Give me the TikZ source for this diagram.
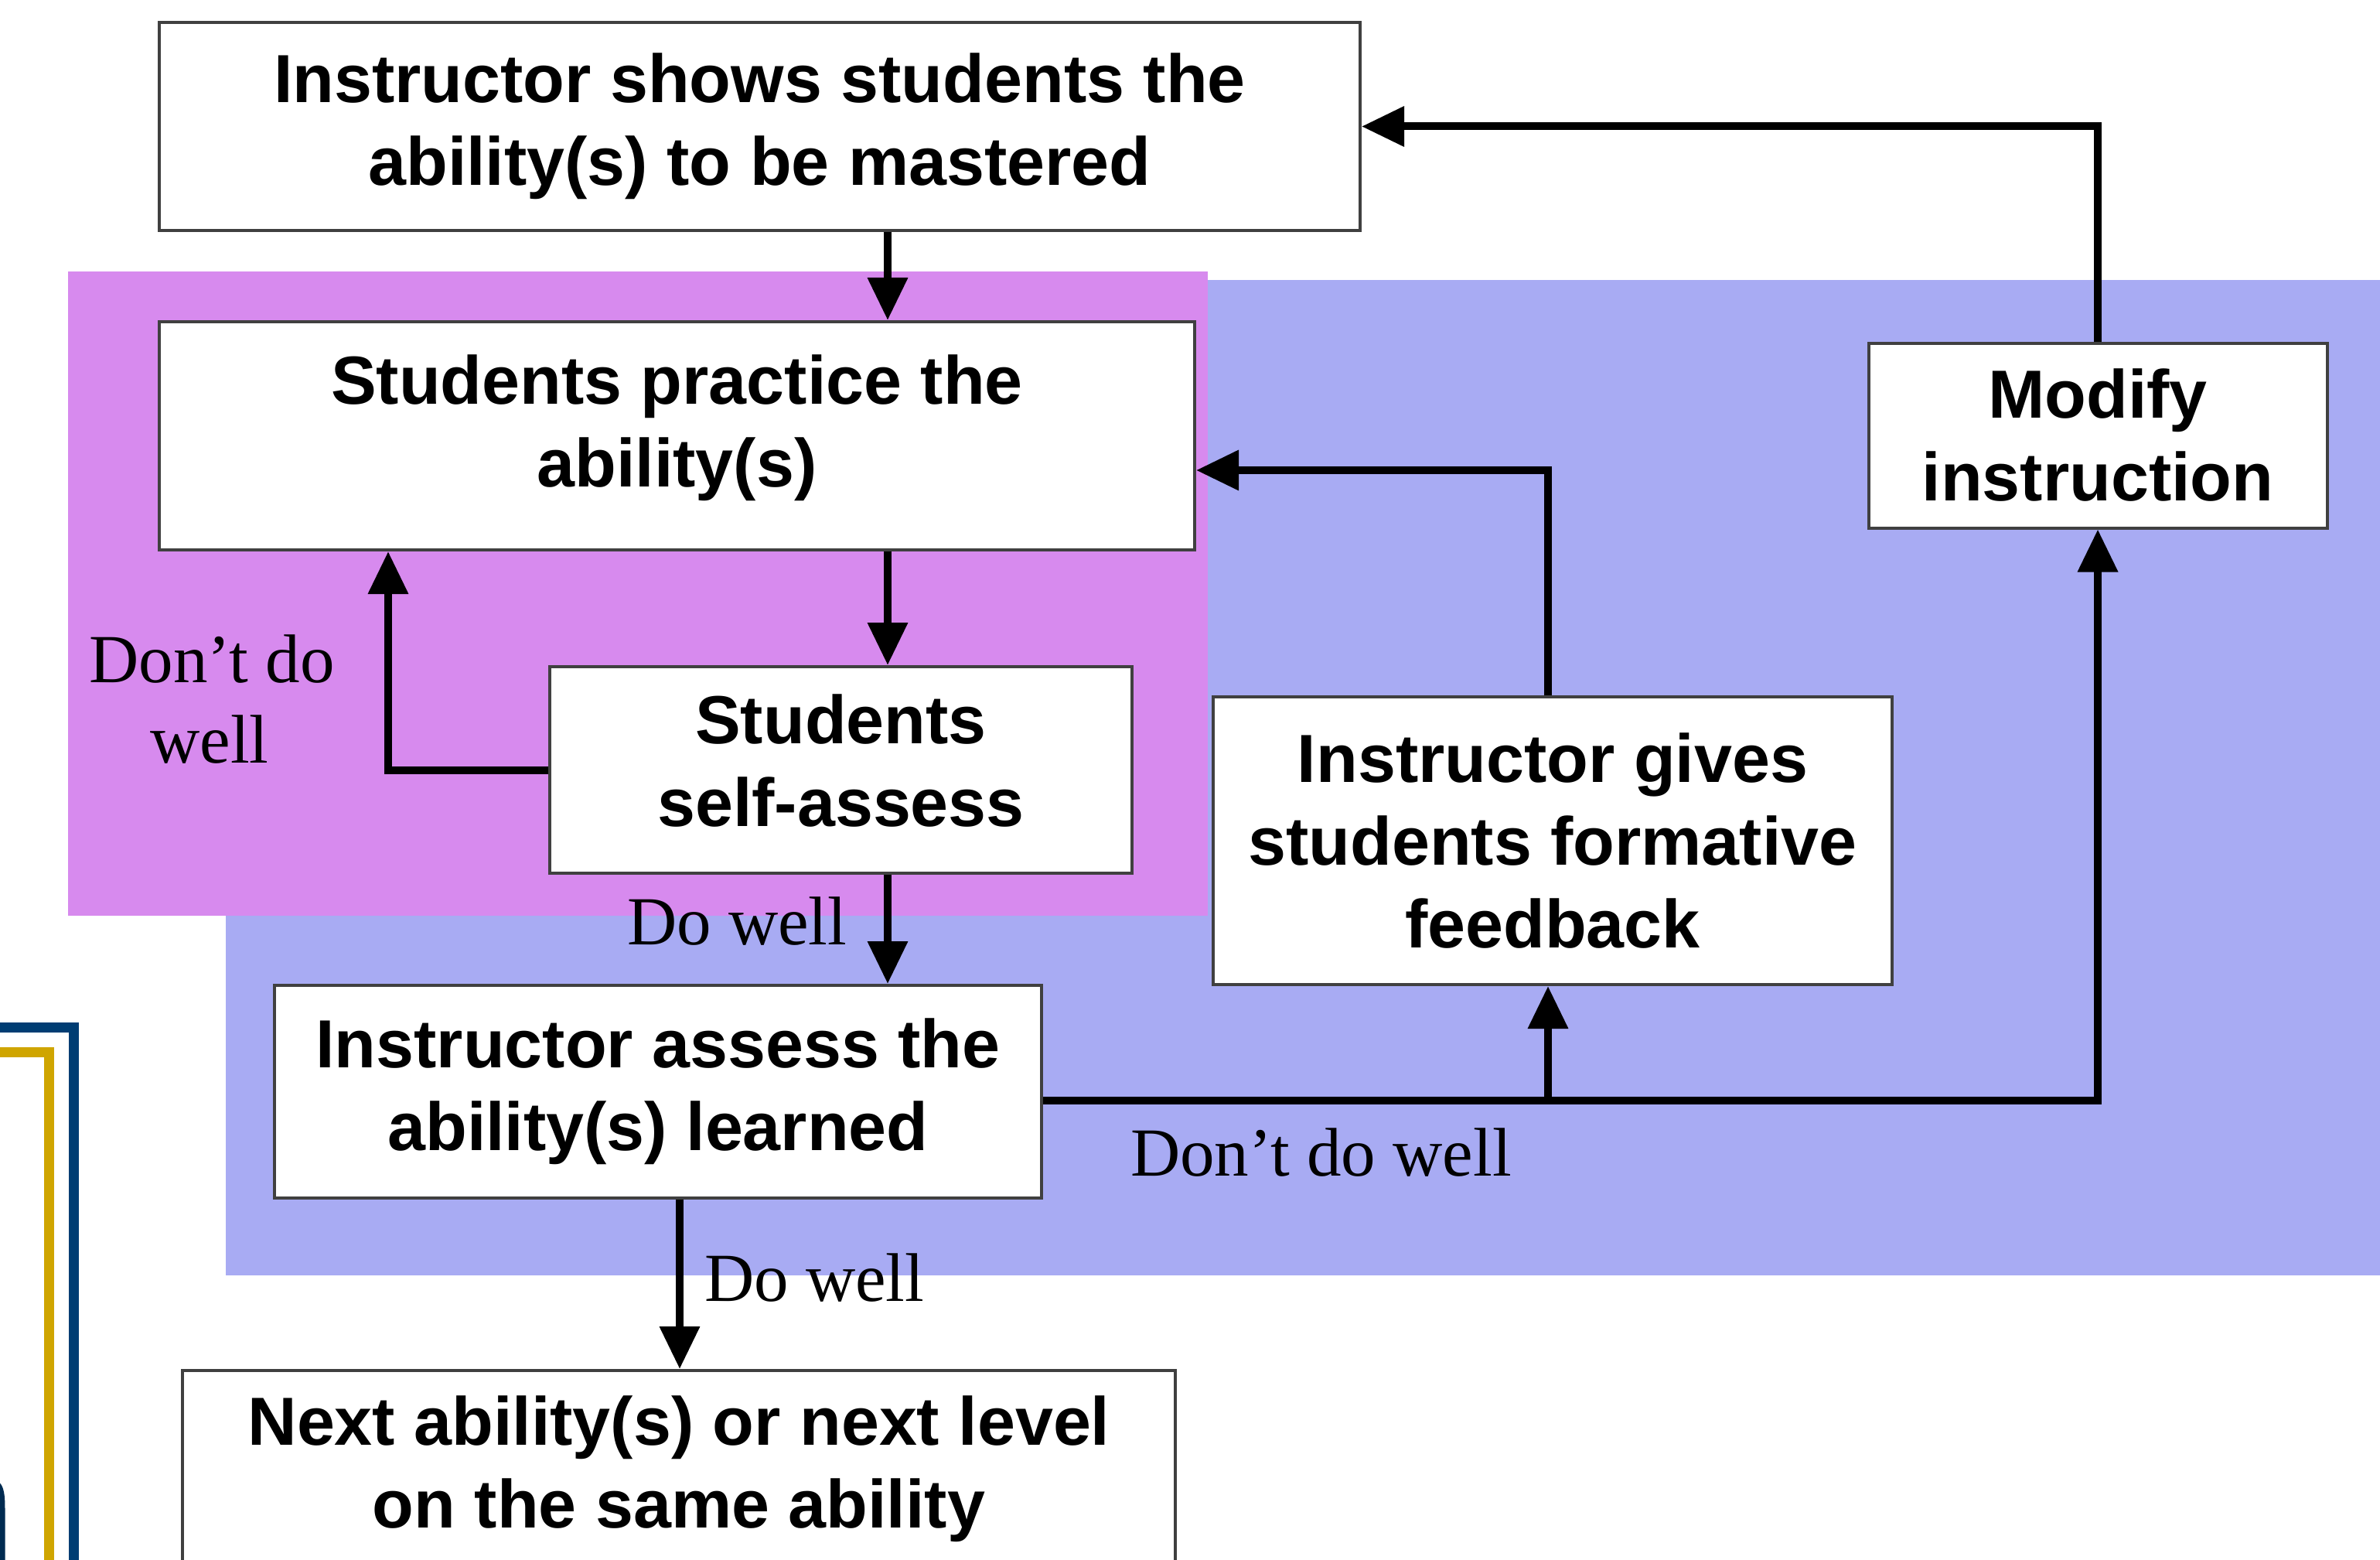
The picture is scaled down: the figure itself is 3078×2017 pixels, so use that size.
\documentclass[tikz,border=0pt]{standalone}
\usepackage{fontspec}
\setmainfont{Liberation Serif}
\newfontfamily\boxfont{Liberation Sans}
\usetikzlibrary{arrows.meta}
\definecolor{purpbg}{RGB}{215,138,238}
\definecolor{bluebg}{RGB}{168,171,243}
\definecolor{navy}{RGB}{0,61,115}
\definecolor{goldline}{RGB}{207,165,0}
\begin{document}
\begin{tikzpicture}[x=1pt,y=-1pt,
  box/.style={draw=black!75, line width=4pt, fill=white, inner sep=0pt, align=center,
    font={\boxfont\bfseries\fontsize{88}{107}\selectfont}},
  arr/.style={line width=10pt, -{Triangle[length=55pt,width=50pt]}},
  lbl/.style={font={\fontsize{89}{104}\selectfont}, inner sep=0pt}]
\useasboundingbox (0,0) rectangle (3078,2017);
\fill[white] (0,0) rectangle (3078,2017);
% background regions
\fill[bluebg] (292,362) rectangle (3090,1649);
\fill[purpbg] (88,351) rectangle (1562,1184);
% left frame fragments
\draw[navy, line width=13pt] (-10,1328) -- (95.5,1328) -- (95.5,2030);
\draw[goldline, line width=13pt] (-10,1360) -- (63.5,1360) -- (63.5,2030);
\draw[navy!70!black, line width=7pt] (-20,1913) .. controls (0,1913) and (3,1925) .. (3,1950) -- (3,2030);
% boxes
\node[box, minimum width=1553pt, minimum height=269pt] (top) at (982.5,163.5)
  {Instructor shows students the\\ability(s) to be mastered};
\node[box, minimum width=1339pt, minimum height=295pt] (practice) at (875.5,563.5)
  {Students practice the\\ability(s)\\[-69pt]\mbox{}};
\node[box, minimum width=753pt, minimum height=267pt] (self) at (1087.5,995.5)
  {Students\\self-assess\\[-83pt]\mbox{}};
\node[box, minimum width=878pt, minimum height=372pt] (feedback) at (2008,1087)
  {Instructor gives\\students formative\\feedback};
\node[box, minimum width=593pt, minimum height=239pt] (modify) at (2713,563)
  {Modify\\instruction};
\node[box, minimum width=992pt, minimum height=275pt] (assess) at (851,1411.5)
  {Instructor assess the\\ability(s) learned};
\node[box, minimum width=1284pt, minimum height=254pt] (next) at (878,1899)
  {Next ability(s) or next level\\on the same ability};
% helper coordinates
\coordinate (c1) at (1148,0);
\coordinate (c2) at (502,0);
\coordinate (c3) at (0,1423);
\coordinate (c4) at (0,608);
\coordinate (c6) at (879,0);
\coordinate (c7) at (2002,0);
% connectors
\draw[arr] (top.south -| c1) -- (practice.north -| c1);
\draw[arr] (practice.south -| c1) -- (self.north -| c1);
\draw[arr] (self.west) -| (practice.south -| c2);
\draw[arr] (self.south -| c1) -- (assess.north -| c1);
\draw[arr] (assess.east |- c3) -| (modify.south);
\draw[arr] (c7 |- c3) -- (feedback.south -| c7);
\draw[arr] (feedback.north -| c7) |- (practice.east |- c4);
\draw[arr] (modify.north) |- (top.east);
\draw[arr] (assess.south -| c6) -- (next.north -| c6);
% labels
\node[lbl, anchor=base] (l1a) at (274,882) {Don’t do};
\node[lbl, anchor=base] (l1b) at (271,986) {well};
\node[lbl, anchor=base west] (l2) at (811,1221) {Do well};
\node[lbl, anchor=base west] (l3) at (1462,1520) {Don’t do well};
\node[lbl, anchor=base west] (l4) at (911,1682) {Do well};
\end{tikzpicture}
\end{document}
